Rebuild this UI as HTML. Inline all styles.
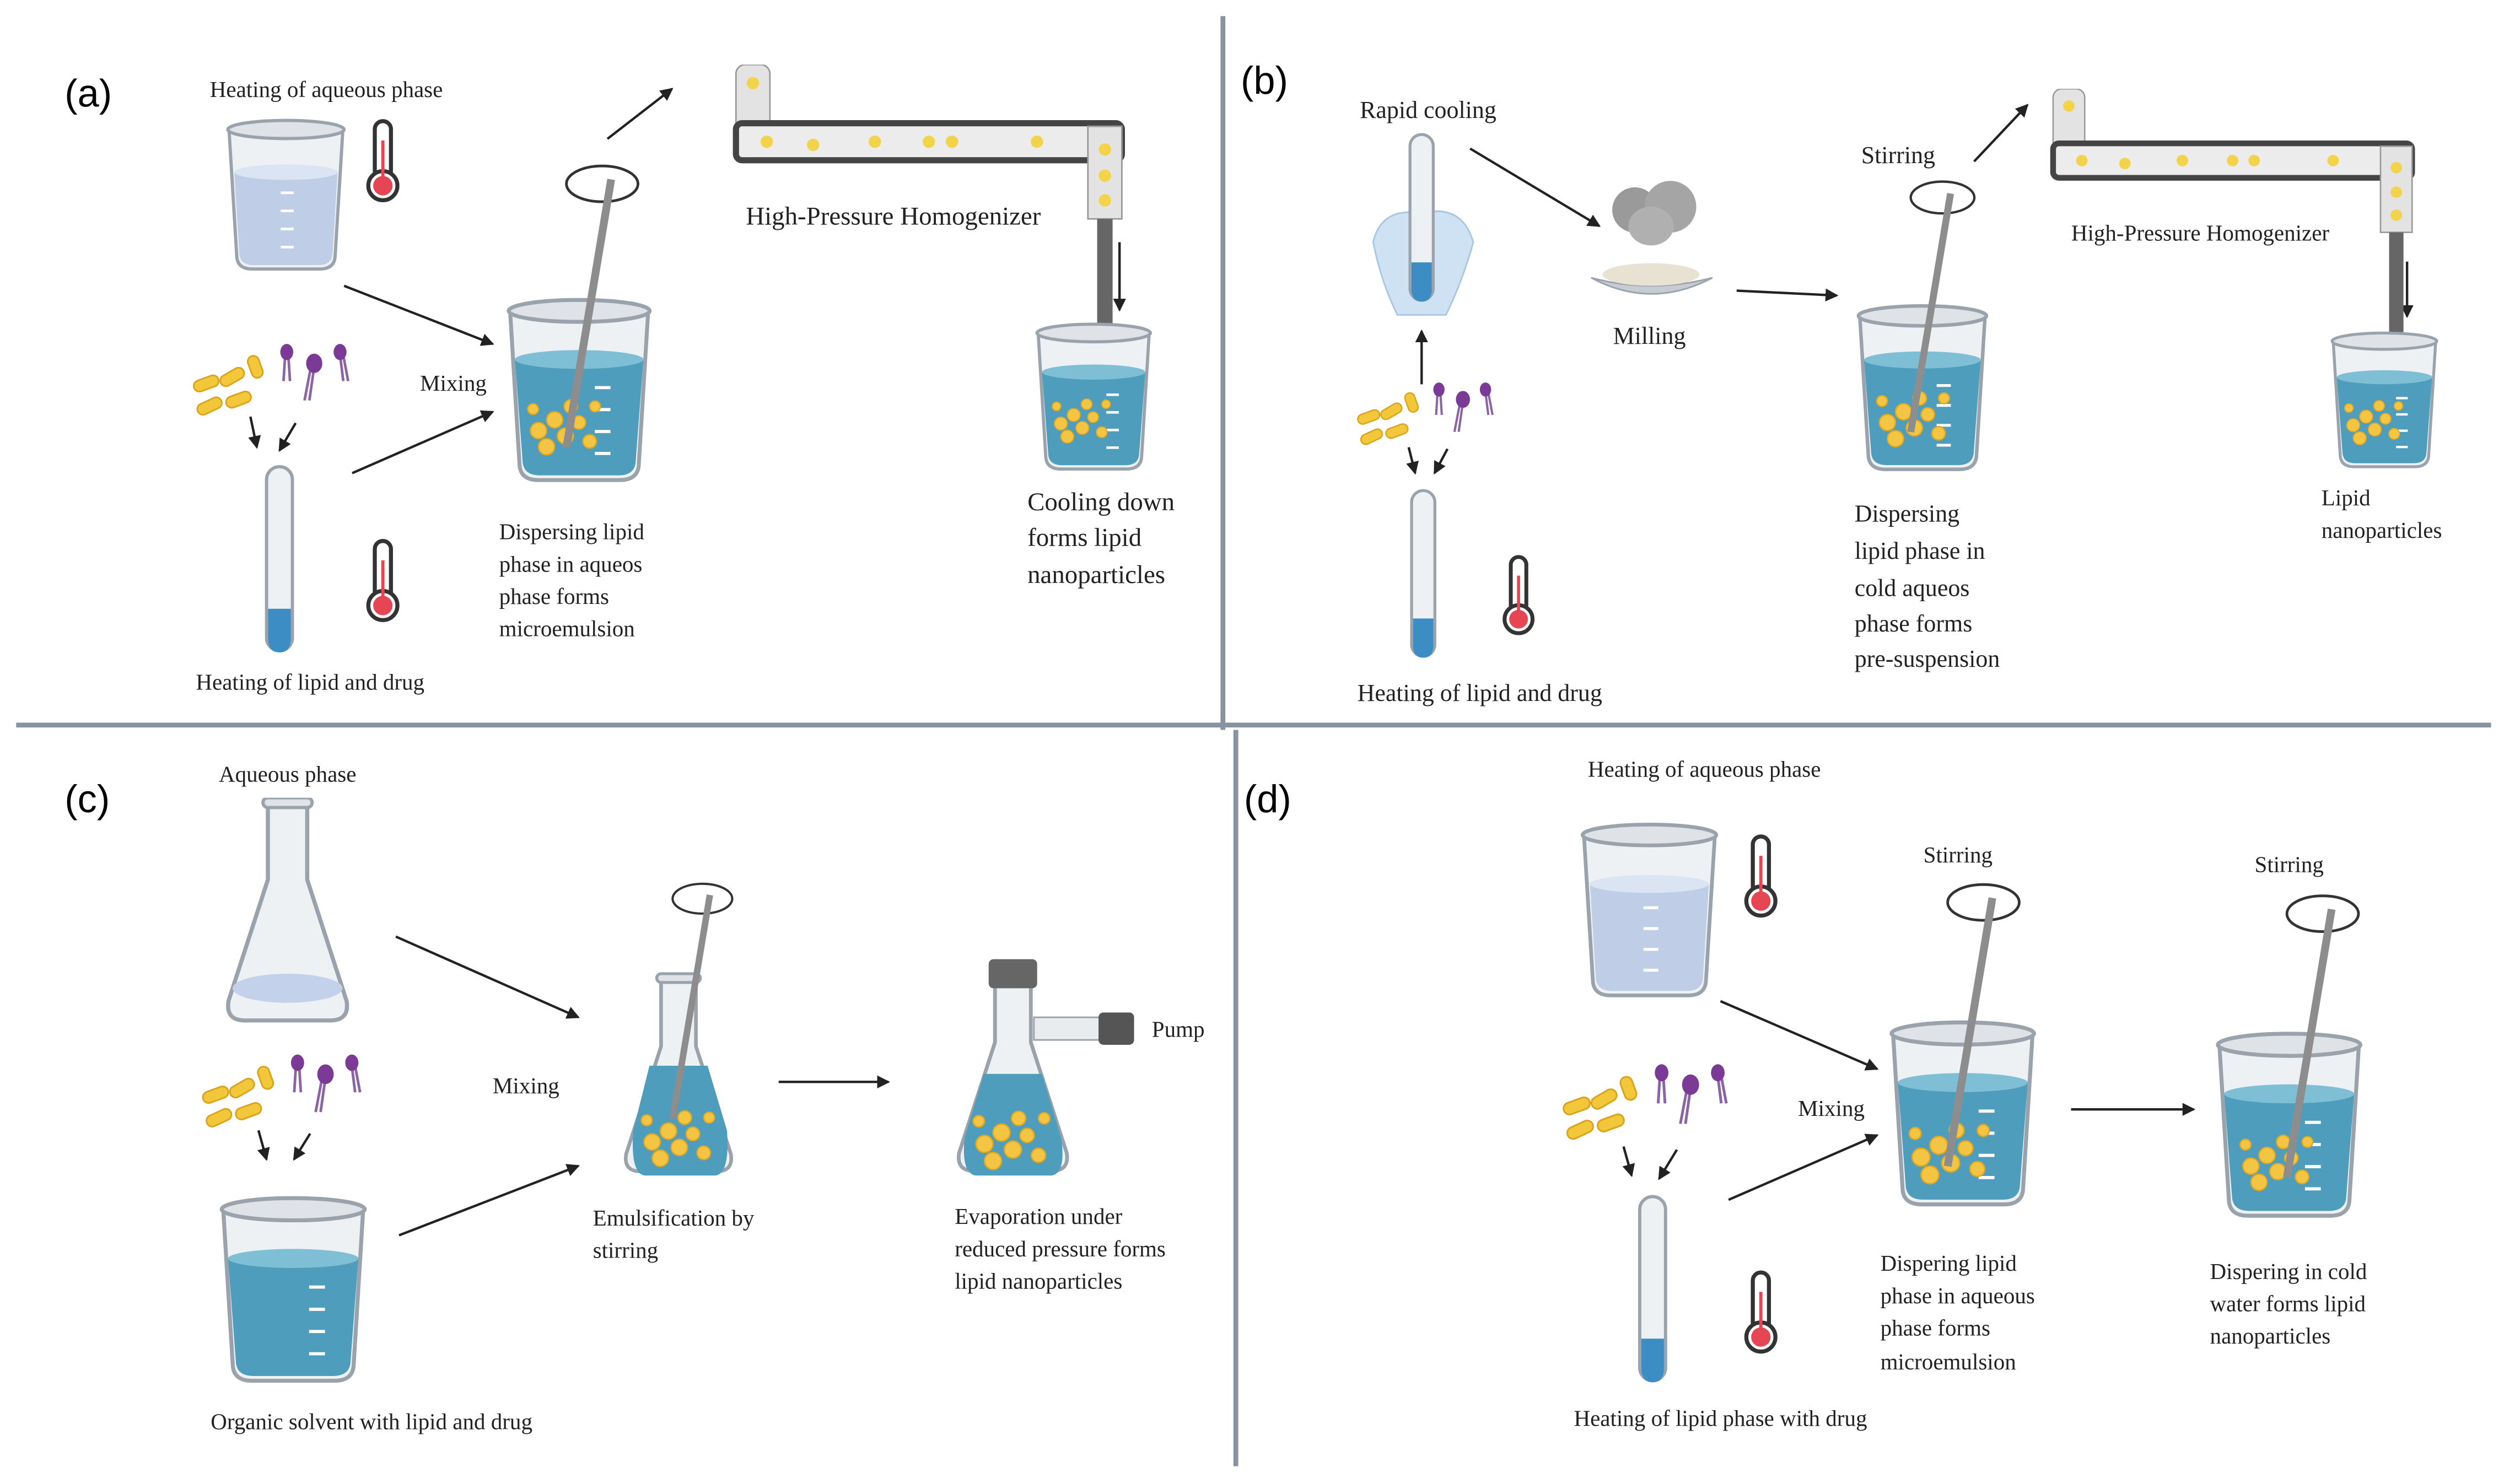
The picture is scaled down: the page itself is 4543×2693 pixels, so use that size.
<!DOCTYPE html>
<html><head><meta charset="utf-8"><style>html,body{margin:0;padding:0;background:#fff}svg{display:block}</style></head>
<body>
<svg width="4543" height="2693" viewBox="0 0 1550 919" preserveAspectRatio="none" xmlns="http://www.w3.org/2000/svg" font-family="'Liberation Serif',serif" font-size="14" fill="#222">
<defs>
<marker id="ah" markerWidth="8" markerHeight="8" refX="7" refY="4" orient="auto" markerUnits="userSpaceOnUse"><path d="M0,0 L8,4 L0,8 z" fill="#222"/></marker>
<symbol id="bkL" viewBox="0 0 100 120"><path d="M6,10 L12,108 Q13,117 24,117 L76,117 Q87,117 88,108 L94,10" fill="#eef1f4" stroke="#9aa3ab" stroke-width="2.5"/><path d="M10,42 L14,106 Q15,114 25,114 L75,114 Q85,114 86,106 L90,42 z" fill="#bfcde6"/><ellipse cx="50" cy="42" rx="40" ry="6" fill="#dbe4f3"/><ellipse cx="50" cy="9" rx="45" ry="7" fill="#dfe3e7" stroke="#9aa3ab" stroke-width="2.5"/><g stroke="#fff" stroke-width="2"><line x1="46" y1="58" x2="56" y2="58"/><line x1="46" y1="72" x2="56" y2="72"/><line x1="46" y1="86" x2="56" y2="86"/><line x1="46" y1="100" x2="56" y2="100"/></g></symbol>
<symbol id="bkD" viewBox="0 0 100 120"><path d="M6,10 L12,108 Q13,117 24,117 L76,117 Q87,117 88,108 L94,10" fill="#eef1f4" stroke="#9aa3ab" stroke-width="2.5"/><path d="M9,40 L14,106 Q15,114 25,114 L75,114 Q85,114 86,106 L91,40 z" fill="#4e9dbd"/><ellipse cx="50" cy="40" rx="41" ry="6" fill="#7fbfd6"/><ellipse cx="50" cy="9" rx="45" ry="7" fill="#dfe3e7" stroke="#9aa3ab" stroke-width="2.5"/><g stroke="#fff" stroke-width="2"><line x1="60" y1="58" x2="70" y2="58"/><line x1="60" y1="72" x2="70" y2="72"/><line x1="60" y1="86" x2="70" y2="86"/><line x1="60" y1="100" x2="70" y2="100"/></g></symbol>
<symbol id="pt" viewBox="0 0 60 50"><g fill="#f4c542" stroke="#e0a820" stroke-width="1"><circle cx="10" cy="30" r="6"/><circle cx="22" cy="22" r="6"/><circle cx="30" cy="34" r="6"/><circle cx="16" cy="42" r="6"/><circle cx="40" cy="24" r="5"/><circle cx="48" cy="38" r="5"/><circle cx="34" cy="12" r="5"/><circle cx="6" cy="14" r="4"/><circle cx="52" cy="12" r="4"/></g></symbol>
<symbol id="tube" viewBox="0 0 20 120"><rect x="2" y="2" width="16" height="114" rx="8" fill="#eef1f4" stroke="#9aa3ab" stroke-width="2"/><path d="M3,90 L17,90 L17,108 Q17,117 10,117 Q3,117 3,108 z" fill="#3c8dc4"/></symbol>
<symbol id="th" viewBox="0 0 24 54"><rect x="7" y="2" width="10" height="36" rx="5" fill="#fff" stroke="#333" stroke-width="2.5"/><circle cx="12" cy="42" r="9" fill="#fff" stroke="#333" stroke-width="2.5"/><circle cx="12" cy="42" r="6" fill="#e64553"/><rect x="11" y="14" width="2" height="26" fill="#e64553"/></symbol>
<symbol id="lip" viewBox="0 0 100 55"><g fill="#f2c73a" stroke="#dba41e"><rect x="2" y="22" width="16" height="7" rx="3.5" transform="rotate(-20 10 25)"/><rect x="18" y="18" width="16" height="7" rx="3.5" transform="rotate(-30 26 21)"/><rect x="4" y="36" width="16" height="7" rx="3.5" transform="rotate(-25 12 39)"/><rect x="22" y="32" width="16" height="7" rx="3.5" transform="rotate(-20 30 35)"/><rect x="34" y="12" width="14" height="7" rx="3.5" transform="rotate(70 41 15)"/></g><g stroke="#8a64a4" stroke-width="1.6" fill="none"><path d="M59,8 L58,24 M61,8 L62,24"/><path d="M75,15 L71,36 M77,15 L74,36"/><path d="M93,8 L95,24 M95,8 L98,24"/></g><g fill="#7b3a96"><ellipse cx="60" cy="6" rx="4" ry="5"/><ellipse cx="77" cy="13" rx="5" ry="6"/><ellipse cx="93" cy="6" rx="4" ry="5"/></g></symbol>
<symbol id="fl" viewBox="0 0 80 140"><path d="M28,4 L28,50 L4,124 Q2,136 14,136 L66,136 Q78,136 76,124 L52,50 L52,4" fill="#eef1f4" stroke="#9aa3ab" stroke-width="2.5"/><rect x="25" y="0" width="30" height="6" rx="3" fill="#dfe3e7" stroke="#9aa3ab" stroke-width="2"/></symbol>
<symbol id="homog" viewBox="0 0 250 180"><rect x="0" y="0" width="22" height="60" rx="6" fill="#e3e3e3" stroke="#999"/><rect x="0" y="38" width="250" height="24" rx="4" fill="#ececec" stroke="#444" stroke-width="4"/><rect x="228" y="40" width="22" height="60" fill="#e3e3e3" stroke="#999"/><rect x="234" y="100" width="10" height="80" fill="#666"/><g fill="#f3d34a"><circle cx="11" cy="12" r="4"/><circle cx="20" cy="50" r="4"/><circle cx="50" cy="52" r="4"/><circle cx="90" cy="50" r="4"/><circle cx="125" cy="50" r="4"/><circle cx="140" cy="50" r="4"/><circle cx="195" cy="50" r="4"/><circle cx="239" cy="55" r="4"/><circle cx="239" cy="72" r="4"/><circle cx="239" cy="88" r="4"/></g></symbol>
<symbol id="stir" viewBox="0 0 40 130"><ellipse cx="22" cy="10" rx="16" ry="8" fill="none" stroke="#333" stroke-width="1.2"/><line x1="26" y1="8" x2="6" y2="128" stroke="#8d8d8d" stroke-width="3.5"/></symbol>
</defs>
<g stroke="#8892a0" stroke-width="3"><line x1="757" y1="10" x2="757" y2="452"/><line x1="765" y1="452" x2="765" y2="908"/><line x1="10" y1="449" x2="1542" y2="449"/></g>
<g font-family="'Liberation Sans',sans-serif" font-size="24" fill="#000"><text x="40" y="66">(a)</text><text x="768" y="58">(b)</text><text x="40" y="503">(c)</text><text x="770" y="503">(d)</text></g>
<g stroke="#222" stroke-width="1.5" fill="none" marker-end="url(#ah)">
<line x1="213" y1="177" x2="305" y2="213"/><line x1="218" y1="293" x2="305" y2="255"/><line x1="376" y1="86" x2="416" y2="55"/><line x1="693" y1="150" x2="693" y2="192"/><line x1="155" y1="258" x2="159" y2="277"/><line x1="183" y1="262" x2="173" y2="279"/>
<line x1="910" y1="92" x2="990" y2="140"/><line x1="880" y1="238" x2="880" y2="205"/><line x1="1075" y1="180" x2="1137" y2="183"/><line x1="1222" y1="100" x2="1255" y2="65"/><line x1="1490" y1="162" x2="1490" y2="196"/><line x1="872" y1="277" x2="876" y2="293"/><line x1="896" y1="278" x2="888" y2="293"/>
<line x1="245" y1="580" x2="358" y2="630"/><line x1="247" y1="765" x2="358" y2="722"/><line x1="482" y1="670" x2="550" y2="670"/><line x1="160" y1="700" x2="165" y2="718"/><line x1="192" y1="702" x2="182" y2="718"/>
<line x1="1065" y1="620" x2="1162" y2="662"/><line x1="1070" y1="743" x2="1162" y2="703"/><line x1="1282" y1="687" x2="1358" y2="687"/><line x1="1005" y1="710" x2="1010" y2="728"/><line x1="1038" y1="712" x2="1027" y2="730"/>
</g>
<!-- (a) -->
<text x="202" y="60" text-anchor="middle">Heating of aqueous phase</text>
<use href="#bkL" x="137" y="68" width="80" height="106"/>
<use href="#th" x="225" y="73" width="24" height="54"/>
<use href="#lip" x="115" y="212" width="105" height="55"/>
<use href="#tube" x="163" y="287" width="20" height="120"/>
<use href="#th" x="225" y="333" width="24" height="54"/>
<text x="192" y="427" text-anchor="middle">Heating of lipid and drug</text>
<text x="260" y="242">Mixing</text>
<use href="#bkD" x="310" y="183" width="97" height="118"/>
<use href="#pt" x="325" y="240" width="50" height="45"/>
<use href="#stir" x="340" y="100" width="60" height="180"/>
<text x="309" y="334">Dispersing lipid</text><text x="309" y="354">phase in aqueos</text><text x="309" y="374">phase forms</text><text x="309" y="394">microemulsion</text>
<use href="#homog" x="450" y="40" width="250" height="172"/>
<text x="553" y="139" text-anchor="middle" font-size="16">High-Pressure Homogenizer</text>
<use href="#bkD" x="638" y="198" width="78" height="96"/>
<use href="#pt" x="650" y="240" width="40" height="38"/>
<text x="636" y="316" font-size="16">Cooling down</text><text x="636" y="338" font-size="16">forms lipid</text><text x="636" y="361" font-size="16">nanoparticles</text>
<!-- (b) -->
<text x="884" y="73" text-anchor="middle" font-size="15">Rapid cooling</text>
<path d="M850,150 Q855,128 880,132 Q905,126 912,150 Q905,175 895,195 L865,195 Q855,175 850,150z" fill="#cfe2f3" stroke="#a9c7e3"/>
<use href="#tube" x="871" y="78" width="18" height="115"/>
<ellipse cx="1012" cy="130" rx="14" ry="14" fill="#9a9a9a"/><ellipse cx="1034" cy="128" rx="16" ry="16" fill="#a5a5a5"/><ellipse cx="1022" cy="140" rx="14" ry="12" fill="#b0b0b0"/>
<path d="M985,172 Q1022,192 1060,172 Q1022,182 985,172z" fill="#c6ccd2" stroke="#9aa3ab"/><ellipse cx="1022" cy="170" rx="30" ry="7" fill="#e8e2d3"/>
<text x="1021" y="213" text-anchor="middle" font-size="15">Milling</text>
<use href="#lip" x="838" y="236" width="88" height="48"/>
<use href="#tube" x="872" y="298" width="18" height="116"/>
<use href="#th" x="928" y="343" width="24" height="52"/>
<text x="916" y="434" text-anchor="middle" font-size="15">Heating of lipid and drug</text>
<text x="1175" y="101" text-anchor="middle" font-size="15">Stirring</text>
<use href="#bkD" x="1146" y="183" width="88" height="115"/>
<use href="#pt" x="1160" y="235" width="50" height="45"/>
<use href="#stir" x="1175" y="110" width="50" height="160"/>
<text x="1148" y="323" font-size="15">Dispersing</text><text x="1148" y="346" font-size="15">lipid phase in</text><text x="1148" y="369" font-size="15">cold aqueos</text><text x="1148" y="391" font-size="15">phase forms</text><text x="1148" y="413" font-size="15">pre-suspension</text>
<use href="#homog" x="1266" y="55" width="232" height="160"/>
<text x="1362" y="149" text-anchor="middle">High-Pressure Homogenizer</text>
<use href="#bkD" x="1440" y="203" width="72" height="90"/>
<use href="#pt" x="1450" y="242" width="40" height="36"/>
<text x="1437" y="313">Lipid</text><text x="1437" y="333">nanoparticles</text>
<!-- (c) -->
<text x="178" y="484" text-anchor="middle">Aqueous phase</text>
<use href="#fl" x="137" y="494" width="82" height="142"/>
<ellipse cx="178" cy="612" rx="34" ry="9" fill="#c4d1ea"/>
<use href="#lip" x="120" y="652" width="108" height="56"/>
<use href="#bkD" x="131" y="740" width="101" height="118"/>
<text x="230" y="885" text-anchor="middle">Organic solvent with lipid and drug</text>
<text x="305" y="677">Mixing</text>
<use href="#fl" x="384" y="600" width="72" height="132"/>
<path d="M402,660 L392,700 Q390,728 400,728 L442,728 Q452,728 450,700 L438,660z" fill="#4e9dbd"/>
<use href="#pt" x="393" y="682" width="55" height="42"/>
<use href="#stir" x="405" y="545" width="55" height="150"/>
<text x="367" y="759">Emulsification by</text><text x="367" y="779">stirring</text>
<use href="#fl" x="590" y="596" width="74" height="136"/>
<rect x="612" y="594" width="30" height="18" rx="3" fill="#666"/>
<path d="M609,665 L597,705 Q595,728 605,728 L650,728 Q660,728 657,705 L645,665z" fill="#4e9dbd"/>
<use href="#pt" x="598" y="682" width="58" height="44"/>
<rect x="640" y="630" width="42" height="14" fill="#e8ecef" stroke="#9aa3ab"/><rect x="680" y="627" width="22" height="20" rx="3" fill="#555"/>
<text x="713" y="642">Pump</text>
<text x="591" y="758">Evaporation under</text><text x="591" y="778">reduced pressure forms</text><text x="591" y="798">lipid nanoparticles</text>
<!-- (d) -->
<text x="1055" y="481" text-anchor="middle">Heating of aqueous phase</text>
<use href="#bkL" x="975" y="506" width="92" height="116"/>
<use href="#th" x="1078" y="515" width="24" height="56"/>
<use href="#lip" x="963" y="658" width="110" height="58"/>
<use href="#tube" x="1013" y="735" width="20" height="128"/>
<use href="#th" x="1078" y="785" width="24" height="56"/>
<text x="1065" y="883" text-anchor="middle">Heating of lipid phase with drug</text>
<text x="1113" y="691">Mixing</text>
<text x="1212" y="534" text-anchor="middle">Stirring</text>
<use href="#bkD" x="1166" y="628" width="98" height="124"/>
<use href="#pt" x="1180" y="688" width="55" height="48"/>
<use href="#stir" x="1195" y="545" width="60" height="180"/>
<text x="1164" y="787">Dispering lipid</text><text x="1164" y="807">phase in aqueous</text><text x="1164" y="827">phase forms</text><text x="1164" y="848">microemulsion</text>
<text x="1417" y="540" text-anchor="middle">Stirring</text>
<use href="#bkD" x="1368" y="635" width="98" height="124"/>
<use href="#pt" x="1385" y="695" width="50" height="46"/>
<use href="#stir" x="1405" y="552" width="60" height="180"/>
<text x="1368" y="792">Dispering in cold</text><text x="1368" y="812">water forms lipid</text><text x="1368" y="832">nanoparticles</text>
</g>
</svg>
</body></html>
